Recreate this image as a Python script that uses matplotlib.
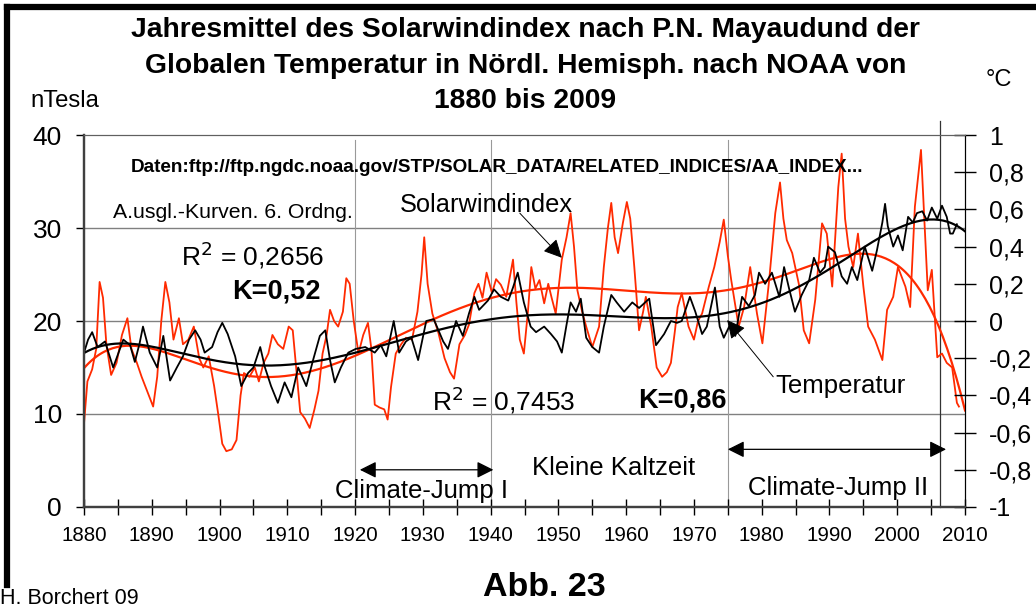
import numpy as np
import matplotlib
matplotlib.use("Agg")
import matplotlib.pyplot as plt
from matplotlib.lines import Line2D

plt.rcParams['font.family'] = ['Liberation Sans', 'DejaVu Sans']

# Solarwindindex (nTesla)
solar_years = [1880.0, 1880.5, 1881.2, 1881.8, 1882.3, 1882.8, 1883.3, 1884.0, 1884.8, 1885.6,
               1886.4, 1887.0, 1887.8, 1888.5, 1889.3, 1890.2, 1890.8, 1891.4, 1892.0, 1892.6,
               1893.2, 1894.0, 1894.6, 1895.4, 1896.2, 1897.0, 1897.6, 1898.4, 1899.2, 1899.8,
               1900.4, 1901.0, 1901.8, 1902.5, 1903.1, 1903.6, 1904.4, 1905.2, 1905.8, 1906.5,
               1907.2, 1907.8, 1908.6, 1909.4, 1910.2, 1910.8, 1911.3, 1911.9, 1912.6, 1913.3,
               1914.0, 1914.6, 1915.2, 1915.8, 1916.3, 1916.9, 1917.5, 1918.2, 1918.7, 1919.2,
               1919.8, 1920.5, 1921.2, 1921.9, 1922.4, 1922.9, 1923.6, 1924.3, 1924.8, 1925.3,
               1926.0, 1926.8, 1927.5, 1928.4, 1929.2, 1929.8, 1930.2, 1930.7, 1931.4, 1932.3,
               1933.2, 1934.0, 1934.6, 1935.4, 1936.2, 1936.8, 1937.6, 1938.2, 1938.8, 1939.4,
               1940.2, 1940.8, 1941.5, 1942.3, 1943.3, 1943.8, 1944.3, 1944.9, 1945.5, 1946.0,
               1946.6, 1947.2, 1947.9, 1948.5, 1949.0, 1949.6, 1950.5, 1951.2, 1951.8, 1952.3,
               1952.8, 1953.5, 1954.1, 1955.0, 1956.0, 1956.7, 1957.3, 1957.8, 1958.3, 1958.8,
               1959.5, 1960.1, 1960.6, 1961.2, 1961.9, 1962.5, 1962.9, 1963.7, 1964.5, 1965.3,
               1966.0, 1966.6, 1967.2, 1967.6, 1968.2, 1969.2, 1970.0, 1970.6, 1971.2, 1972.2,
               1973.0, 1973.8, 1974.4, 1975.0, 1975.5, 1976.6, 1977.4, 1978.3, 1979.3, 1980.1,
               1981.1, 1982.0, 1982.7, 1983.2, 1983.7, 1984.5, 1985.5, 1986.2, 1987.0, 1987.9,
               1988.9, 1989.6, 1990.4, 1991.3, 1991.8, 1992.3, 1992.8, 1993.5, 1994.2, 1995.0,
               1995.7, 1996.7, 1997.8, 1998.5, 1999.4, 2000.1, 2001.2, 2001.9, 2002.6, 2003.5,
               2004.1, 2004.5, 2005.1, 2005.9, 2006.6, 2007.3, 2008.1, 2008.8, 2009.1]
solar_vals = [9.0, 13.5, 14.8, 17.0, 24.2, 22.5, 17.5, 14.2, 15.5, 18.5,
              20.3, 17.0, 15.5, 14.0, 12.5, 10.8, 14.0, 20.0, 24.2, 22.0,
              18.0, 20.3, 17.5, 18.0, 19.4, 16.0, 15.0, 16.2, 13.0, 10.0,
              6.8, 6.0, 6.2, 7.2, 12.0, 14.4, 14.0, 15.0, 13.5, 15.5,
              16.5, 18.5, 17.5, 17.0, 19.4, 19.0, 15.0, 10.2, 9.5, 8.5,
              10.5, 12.5, 16.5, 18.5, 21.2, 20.0, 19.4, 21.0, 24.6, 24.0,
              20.0, 16.5, 18.5, 19.8, 17.0, 11.0, 10.7, 10.5, 9.4, 12.9,
              16.5, 17.5, 18.2, 18.0, 21.0, 25.0, 29.0, 24.0, 20.8, 18.7,
              16.0, 14.5, 13.8, 17.5, 18.5, 19.6, 23.0, 24.0, 22.5, 25.2,
              23.0, 24.5, 23.9, 22.6, 26.6, 22.0, 18.0, 16.5, 21.0, 25.8,
              23.5, 24.4, 21.9, 24.0, 22.5, 20.8, 26.6, 29.0, 31.6, 28.0,
              23.3, 21.0, 19.4, 17.2, 19.4, 25.8, 30.0, 32.7, 29.0, 27.3,
              30.5, 32.8, 31.0, 25.8, 19.0, 21.0, 22.6, 19.4, 15.0, 14.0,
              14.5, 15.5, 19.0, 21.5, 23.0, 19.4, 18.0, 20.0, 20.8, 23.7,
              25.8, 28.5, 30.9, 27.0, 24.4, 19.4, 21.5, 25.8, 20.8, 17.6,
              24.4, 31.6, 34.9, 31.0, 28.7, 27.3, 23.9, 19.0, 17.6, 22.3,
              30.5, 29.4, 23.7, 34.4, 38.0, 31.0, 28.0, 25.8, 29.4, 23.7,
              19.4, 18.0, 15.8, 21.2, 22.6, 25.8, 23.7, 21.5, 32.3, 38.4,
              29.4, 23.3, 25.5, 16.1, 16.5, 15.5, 15.0, 11.2, 10.8]

# Temperatur Nordhalbkugel (°C)
temp_years = [1880.0, 1880.6, 1881.2, 1882.0, 1883.1, 1883.7, 1884.3, 1885.0, 1885.8, 1886.8,
              1887.5, 1888.2, 1888.7, 1889.7, 1890.8, 1891.7, 1892.2, 1892.7, 1893.7, 1894.6,
              1895.5, 1896.4, 1897.2, 1897.8, 1898.9, 1899.7, 1900.4, 1901.2, 1902.3, 1903.2,
              1904.2, 1905.0, 1906.0, 1906.7, 1907.6, 1908.6, 1909.6, 1910.6, 1911.6, 1912.8,
              1913.8, 1914.8, 1915.6, 1916.3, 1917.0, 1917.9, 1919.0, 1920.1, 1921.5, 1922.9,
              1923.8, 1924.6, 1925.7, 1926.5, 1927.5, 1928.3, 1929.3, 1930.5, 1931.6, 1933.0,
              1933.7, 1934.9, 1935.9, 1936.8, 1937.6, 1938.3, 1939.6, 1940.5, 1941.5, 1942.6,
              1943.3, 1944.0, 1944.9, 1945.9, 1946.7, 1947.9, 1948.9, 1949.8, 1950.5, 1951.2,
              1951.8, 1952.6, 1953.3, 1954.1, 1955.0, 1956.0, 1956.7, 1957.8, 1958.6, 1959.7,
              1960.9, 1961.9, 1963.4, 1964.4, 1965.6, 1966.6, 1967.5, 1968.2, 1969.4, 1970.2,
              1971.2, 1971.9, 1973.1, 1973.8, 1974.4, 1975.2, 1976.1, 1977.1, 1978.1, 1979.0,
              1979.6, 1980.5, 1981.5, 1982.6, 1983.3, 1984.0, 1984.9, 1985.9, 1987.0, 1987.7,
              1988.6, 1989.3, 1989.8, 1990.8, 1991.8, 1992.6, 1993.3, 1994.1, 1995.2, 1996.3,
              1997.0, 1997.8, 1998.2, 1998.6, 1999.4, 2000.1, 2000.8, 2001.6, 2002.3, 2002.9,
              2003.7, 2004.4, 2005.1, 2005.9, 2006.6, 2007.3, 2007.8, 2008.2, 2008.8]
temp_vals = [-0.17, -0.10, -0.06, -0.14, -0.11, -0.18, -0.25, -0.18, -0.10, -0.13,
             -0.22, -0.12, -0.03, -0.17, -0.25, -0.08, -0.20, -0.32, -0.25, -0.19,
             -0.10, -0.05, -0.10, -0.17, -0.14, -0.06, -0.01, -0.07, -0.19, -0.35,
             -0.28, -0.25, -0.14, -0.25, -0.35, -0.44, -0.33, -0.41, -0.25, -0.35,
             -0.21, -0.08, -0.05, -0.21, -0.33, -0.25, -0.17, -0.15, -0.14, -0.17,
             -0.13, -0.19, 0.00, -0.17, -0.11, -0.09, -0.21, 0.00, 0.01, -0.11,
             -0.15, 0.00, -0.08, 0.04, 0.13, 0.06, 0.11, 0.17, 0.13, 0.11,
             0.18, 0.26, 0.10, -0.03, -0.06, -0.03, -0.07, -0.11, -0.17, -0.02,
             0.10, 0.05, 0.12, -0.09, -0.14, -0.17, -0.03, 0.14, 0.10, 0.05,
             0.10, 0.07, 0.12, -0.13, -0.07, 0.00, -0.01, 0.00, 0.13, 0.05,
             -0.07, -0.03, 0.18, -0.03, -0.09, -0.03, -0.08, 0.13, 0.08, 0.14,
             0.26, 0.20, 0.26, 0.13, 0.29, 0.18, 0.05, 0.14, 0.22, 0.34,
             0.26, 0.29, 0.40, 0.37, 0.24, 0.20, 0.29, 0.22, 0.40, 0.27,
             0.38, 0.53, 0.63, 0.51, 0.40, 0.46, 0.38, 0.56, 0.53, 0.58,
             0.59, 0.54, 0.61, 0.55, 0.62, 0.56, 0.47, 0.47, 0.52]

x_ticks = [1880, 1890, 1900, 1910, 1920, 1930, 1940, 1950, 1960, 1970, 1980, 1990, 2000, 2010]
left_ticks = [0, 10, 20, 30, 40]
right_ticks = [-1, -0.8, -0.6, -0.4, -0.2, 0, 0.2, 0.4, 0.6, 0.8, 1]
right_labels = ["-1", "-0,8", "-0,6", "-0,4", "-0,2", "0", "0,2", "0,4", "0,6", "0,8", "1"]
period_lines = [1920, 1940, 1975, 2006.3]

red = '#ff2a00'


def trend(years, vals, deg=6):
    # Excel-like polynomial trendline (6. Ordnung)
    t = (np.array(years) - 1945.0) / 65.0
    c = np.polyfit(t, vals, deg)
    xs = np.linspace(1880, 2010, 400)
    return xs, np.polyval(c, (xs - 1945.0) / 65.0)


fig = plt.figure(figsize=(10.36, 6.09), dpi=100)
ax = fig.add_axes([0.0811, 0.1675, 0.8504, 0.6108])
ax2 = ax.twinx()

ax.plot(solar_years, solar_vals, color=red, lw=1.3, zorder=3)
xs, ys = trend(solar_years, solar_vals)
ax.plot(xs, ys, color=red, lw=1.6, zorder=3)

ax2.plot(temp_years, temp_vals, color='black', lw=1.3)
xs, ys = trend(temp_years, temp_vals)
ax2.plot(xs, ys, color='black', lw=1.6)

ax.set_xlim(1880, 2010)
ax.set_ylim(0, 40)
ax2.set_ylim(-1, 1)

ax.set_xticks(x_ticks)
ax.set_xticks(np.arange(1885, 2010, 10), minor=True)
ax.tick_params(axis='x', which='both', direction='inout', length=12, width=1, pad=8, labelsize=14.8)
ax.set_yticks(left_ticks)
ax.tick_params(axis='y', direction='out', length=6, width=1, labelsize=19, pad=10)
ax2.set_yticks(right_ticks)
ax2.set_yticklabels(right_labels)
ax2.tick_params(axis='y', direction='inout', length=16, width=1, labelsize=18, pad=9)

for v in [10, 20, 30]:
    ax.axhline(v, color='#808080', lw=1, zorder=1)
for yr in period_lines[:3]:
    ax.plot([yr, yr], [0, 39.5], color='#999999', lw=0.8, zorder=1)
ax.plot([period_lines[3], period_lines[3]], [0, 41.5], color='#333333', lw=0.9, zorder=1, clip_on=False)

for a in (ax, ax2):
    a.spines['left'].set_color('#404040')
    a.spines['left'].set_linewidth(1.6)
    a.spines['bottom'].set_color('#404040')
    a.spines['bottom'].set_linewidth(1.6)
    a.spines['top'].set_color('#606060')
    a.spines['right'].set_color('black')

# Texte
fig.text(0.507, 0.950, "Jahresmittel des Solarwindindex nach P.N. Mayaudund der",
         ha='center', va='center', fontsize=20.3, fontweight='bold')
fig.text(0.507, 0.892, "Globalen Temperatur in Nördl. Hemisph. nach NOAA von",
         ha='center', va='center', fontsize=20.3, fontweight='bold')
fig.text(0.507, 0.834, "1880 bis 2009", ha='center', va='center', fontsize=20.3, fontweight='bold')
fig.text(0.029, 0.834, "nTesla", ha='left', va='center', fontsize=17.2)
fig.text(0.951, 0.868, "°C", ha='left', va='center', fontsize=17)
fig.text(0.525, 0.036, "Abb. 23", ha='center', va='center', fontsize=24.5, fontweight='bold')
fig.text(0.0, 0.018, "H. Borchert 09", ha='left', va='center', fontsize=15.5)

ax.text(1886.9, 36.5, "Daten:ftp://ftp.ngdc.noaa.gov/STP/SOLAR_DATA/RELATED_INDICES/AA_INDEX...",
        ha='left', va='center', fontsize=13.6, fontweight='bold')
ax.text(1884.3, 31.7, "A.usgl.-Kurven. 6. Ordng.", ha='left', va='center', fontsize=15.3)
ax.text(1894.3, 27.1, "R$^2$ = 0,2656", ha='left', va='center', fontsize=19)
ax.text(1901.8, 23.2, "K=0,52", ha='left', va='center', fontsize=19.5, fontweight='bold')
ax.text(1931.4, 11.5, "R$^2$ = 0,7453", ha='left', va='center', fontsize=19)
ax.text(1961.7, 11.5, "K=0,86", ha='left', va='center', fontsize=19.5, fontweight='bold')
ax.text(1926.6, 32.5, "Solarwindindex", ha='left', va='center', fontsize=18.3)
ax.text(1982.0, 13.0, "Temperatur", ha='left', va='center', fontsize=18.5)
ax.text(1917.0, 1.7, "Climate-Jump I", ha='left', va='center', fontsize=18.5)
ax.text(1946.1, 4.2, "Kleine Kaltzeit", ha='left', va='center', fontsize=18.5)
ax.text(1978.0, 2.0, "Climate-Jump II", ha='left', va='center', fontsize=18.5)

head = dict(arrowstyle='-|>', color='black', lw=0.7, mutation_scale=28, shrinkA=0, shrinkB=0)
ax.annotate("", xy=(1950.5, 26.8), xytext=(1944.3, 31.6), arrowprops=head, zorder=5)
ax.annotate("", xy=(1974.9, 20.1), xytext=(1981.7, 14.0), arrowprops=head, zorder=5)
both = dict(arrowstyle='<|-|>', color='black', lw=0.9, mutation_scale=25, shrinkA=0, shrinkB=0)
ax.annotate("", xy=(1940.4, 4.0), xytext=(1920.7, 4.0), arrowprops=both)
ax.annotate("", xy=(2007.2, 6.2), xytext=(1975.0, 6.2), arrowprops=both)

# dicker Rahmen (links und oben sichtbar)
fig.add_artist(Line2D([0.0068, 0.0068], [0.04, 0.9885], transform=fig.transFigure,
                      color='black', lw=4.5, solid_capstyle='projecting'))
fig.add_artist(Line2D([0.0068, 1.0], [0.9885, 0.9885], transform=fig.transFigure,
                      color='black', lw=4.5, solid_capstyle='projecting'))

fig.savefig("out.png", dpi=100)
